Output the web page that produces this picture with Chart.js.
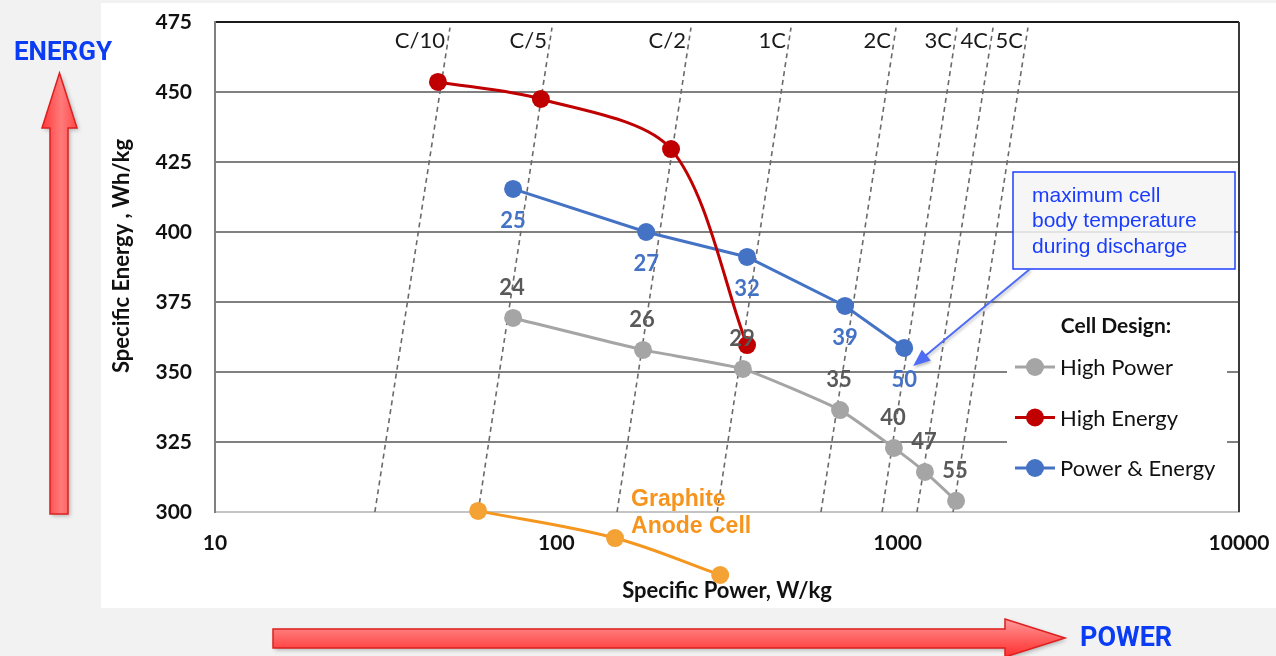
<!DOCTYPE html>
<html>
<head>
<meta charset="utf-8">
<title>Specific Energy vs Specific Power</title>
<script src="https://cdn.jsdelivr.net/npm/chart.js@4.4.1/dist/chart.umd.min.js"></script>
<style>
  html, body { margin: 0; padding: 0; background: #f2f2f2; overflow: hidden; }
  #wrap { width: 1276px; height: 656px; position: relative; }
</style>
</head>
<body>
<div id="wrap"><canvas id="chart"></canvas></div>
<script>
// Axis ticks
const powerTicks = [10, 100, 1000, 10000];
const energyMin = 300;
const energyMax = 475;
const energyStep = 25;

// Cell design series: specific power (W/kg) and specific energy (Wh/kg)
const highPowerPower   = [74.7, 179.5, 352, 678, 975, 1202, 1483];
const highPowerEnergy  = [369.3, 357.9, 351.1, 336.4, 322.9, 314.3, 304.0];
const highPowerTemp    = [24, 26, 29, 35, 40, 47, 55];

const highEnergyPower  = [45, 90.1, 216.8, 362];
const highEnergyEnergy = [453.6, 447.5, 429.6, 359.6];

const powerEnergyPower  = [74.7, 183.3, 362, 701, 1045];
const powerEnergyEnergy = [415.4, 400, 391.1, 373.6, 358.6];
const powerEnergyTemp   = [25, 27, 32, 39, 50];

const graphitePower  = [59, 148.6, 302];
const graphiteEnergy = [300.4, 290.7, 277.5];

// Discharge-rate guide lines (power at the low and high energy ends)
const cRateLabels      = ['C/10', 'C/5', 'C/2', '1C', '2C', '3C', '4C', '5C'];
const cRateLowPower    = [29.4, 59, 150.6, 296, 596, 900, 1139, 1453];
const cRateHighPower   = [48.8, 97.1, 248, 487, 989, 1492, 1903, 2408];
const cRateEnergyEnds  = [300, 473];

const xTitle = 'Specific Power, W/kg';
const yTitle = 'Specific Energy , Wh/kg';
const legendTitle = 'Cell Design:';
const legendNames = ['High Power', 'High Energy', 'Power & Energy'];
const calloutLines = ['maximum cell', 'body temperature', 'during discharge'];
const graphiteLines = ['Graphite', 'Anode Cell'];

const GRAY = '#A5A5A5', RED = '#C00000', BLUE = '#4472C4', ORANGE = '#F5A235';

const toPoints = (xs, ys) => xs.map((x, i) => ({ x: x, y: ys[i] }));

function series(label, xs, ys, color, tension, extra) {
  return Object.assign({
    label: label,
    data: toPoints(xs, ys),
    borderColor: color,
    backgroundColor: color,
    pointBackgroundColor: color,
    pointBorderColor: color,
    pointRadius: 9,
    pointBorderWidth: 0,
    borderWidth: 3,
    tension: tension,
    showLine: true
  }, extra || {});
}

const datasets = [
  series('High Energy', highEnergyPower, highEnergyEnergy, RED, 0.3),
  series('High Power', highPowerPower, highPowerEnergy, GRAY, 0.15),
  series('Power & Energy', powerEnergyPower, powerEnergyEnergy, BLUE, 0),
  // Graphite cell runs below the energy axis floor; its markers are drawn by the plugin
  series('Graphite Anode Cell', graphitePower, graphiteEnergy, ORANGE, 0.35,
         { clip: false, borderColor: '#F5961E', pointRadius: 0 })
];

cRateLabels.forEach((name, i) => {
  datasets.push({
    label: name,
    data: [{ x: cRateLowPower[i], y: cRateEnergyEnds[0] }, { x: cRateHighPower[i], y: cRateEnergyEnds[1] }],
    borderColor: '#6a6a6a',
    borderWidth: 1.6,
    borderDash: [5, 4],
    pointRadius: 0,
    showLine: true,
    tension: 0
  });
});

function drawArrowShape(ctx, pts, grad, stroke) {
  ctx.save();
  ctx.shadowColor = 'rgba(0,0,0,0.28)';
  ctx.shadowBlur = 4;
  ctx.shadowOffsetX = 2;
  ctx.shadowOffsetY = 2;
  ctx.beginPath();
  pts.forEach((p, i) => i ? ctx.lineTo(p[0], p[1]) : ctx.moveTo(p[0], p[1]));
  ctx.closePath();
  ctx.fillStyle = grad;
  ctx.fill();
  ctx.shadowColor = 'transparent';
  ctx.lineWidth = 1.5;
  ctx.strokeStyle = stroke;
  ctx.stroke();
  ctx.restore();
}

// Keep tick-label overhang from pushing the plot area inward
function noOverhang(s) {
  s.paddingTop = 0;
  s.paddingBottom = 0;
  s.paddingLeft = 0;
  s.paddingRight = 0;
}

const decor = {
  id: 'decor',
  beforeDraw(chart) {
    const ctx = chart.ctx;
    ctx.save();
    ctx.fillStyle = '#f2f2f2';
    ctx.fillRect(0, 0, chart.width, chart.height);
    ctx.fillStyle = '#ffffff';
    ctx.fillRect(101, 3, chart.width - 101, 605);

    // Upward "energy" arrow
    let g = ctx.createLinearGradient(42, 0, 77, 0);
    g.addColorStop(0, '#ff3a3a');
    g.addColorStop(0.55, '#ff7a7a');
    g.addColorStop(1, '#ff4848');
    drawArrowShape(ctx, [[50, 514], [50, 128], [42, 128], [59.5, 73], [77, 128], [68, 128], [68, 514]], g, '#dd1f1f');

    // Rightward "power" arrow
    g = ctx.createLinearGradient(0, 619, 0, 657);
    g.addColorStop(0, '#ff9a9a');
    g.addColorStop(0.5, '#ff6262');
    g.addColorStop(1, '#ff2e2e');
    drawArrowShape(ctx, [[273, 629], [1005, 629], [1005, 619], [1065, 638], [1005, 657], [1005, 648], [273, 648]], g, '#dd1f1f');

    ctx.fillStyle = '#0b3cf5';
    ctx.font = 'bold 26px Roboto';
    ctx.textBaseline = 'middle';
    ctx.textAlign = 'center';
    ctx.fillText('ENERGY', 63, 53);
    ctx.font = 'bold 27px Roboto';
    ctx.textAlign = 'left';
    ctx.fillText('POWER', 1080, 639);
    ctx.restore();
  },
  beforeDatasetsDraw(chart) {
    // Legend panel hides the grid behind it
    const a = chart.chartArea, ctx = chart.ctx;
    ctx.save();
    ctx.fillStyle = '#ffffff';
    ctx.fillRect(a.right - 232, 306, 220, 194);
    ctx.restore();
  },
  afterDatasetsDraw(chart) {
    const ctx = chart.ctx, a = chart.chartArea;
    const xs = chart.scales.x, ys = chart.scales.y;
    ctx.save();

    // Right frame edge
    ctx.strokeStyle = '#3a3a3a';
    ctx.lineWidth = 2;
    ctx.beginPath();
    ctx.moveTo(a.right, a.top);
    ctx.lineTo(a.right, a.bottom);
    ctx.stroke();

    // Energy axis title, set slightly above the plot's mid-height
    ctx.save();
    ctx.translate(ys.left + 21, (a.top + a.bottom) / 2 - 11);
    ctx.rotate(-Math.PI / 2);
    ctx.font = 'bold 22px Lato';
    ctx.fillStyle = '#111';
    ctx.textAlign = 'center';
    ctx.textBaseline = 'middle';
    ctx.fillText(yTitle, 0, 0);
    ctx.restore();

    // Graphite cell markers (outside the plot floor)
    const gpts = chart.getDatasetMeta(3).data;
    ctx.fillStyle = ORANGE;
    gpts.forEach(el => {
      ctx.beginPath();
      ctx.arc(el.x, el.y, 9, 0, Math.PI * 2);
      ctx.fill();
    });

    // Discharge-rate labels
    ctx.font = '22px Lato';
    ctx.fillStyle = '#1a1a1a';
    ctx.textAlign = 'right';
    ctx.textBaseline = 'middle';
    cRateLabels.forEach((name, i) => {
      const px = xs.getPixelForValue(cRateHighPower[i]);
      const py = ys.getPixelForValue(cRateEnergyEnds[1]);
      ctx.fillText(name, px - 5, py + 13);
    });

    // Temperature labels
    ctx.textAlign = 'center';
    ctx.font = 'bold 22px Lato';
    const hp = chart.getDatasetMeta(1).data;
    ctx.fillStyle = '#595959';
    hp.forEach((el, i) => ctx.fillText(String(highPowerTemp[i]), el.x - 1, el.y - 30));
    const pe = chart.getDatasetMeta(2).data;
    ctx.fillStyle = BLUE;
    pe.forEach((el, i) => ctx.fillText(String(powerEnergyTemp[i]), el.x, el.y + 32));

    // Graphite cell tag
    const gp = gpts[1];
    ctx.font = 'bold 23px "Liberation Sans", Arial';
    ctx.fillStyle = '#F7941D';
    ctx.textAlign = 'left';
    graphiteLines.forEach((t, i) => ctx.fillText(t, gp.x + 16, gp.y - 38 + i * 27));

    // Callout box
    const bx = a.right - 226, by = 172, bw = 222, bh = 97;
    ctx.fillStyle = 'rgba(244,244,244,0.85)';
    ctx.fillRect(bx, by, bw, bh);
    ctx.strokeStyle = '#1f3fff';
    ctx.lineWidth = 1.5;
    ctx.strokeRect(bx, by, bw, bh);
    ctx.font = '21px "Liberation Sans", Arial';
    ctx.fillStyle = '#1a3cff';
    calloutLines.forEach((t, i) => ctx.fillText(t, bx + 19, by + 24 + i * 25.5));

    // Callout pointer toward the hottest Power & Energy point
    const last = pe[pe.length - 1];
    const tx = last.x + 9, ty = last.y + 18;
    const sx = bx + 17, sy = by + bh;
    const ang = Math.atan2(ty - sy, tx - sx);
    ctx.save();
    ctx.shadowColor = 'rgba(0,0,0,0.25)';
    ctx.shadowBlur = 3;
    ctx.shadowOffsetX = 1;
    ctx.shadowOffsetY = 2;
    ctx.strokeStyle = '#4e6cf4';
    ctx.fillStyle = '#4e6cf4';
    ctx.lineWidth = 2;
    ctx.beginPath();
    ctx.moveTo(sx, sy);
    ctx.lineTo(tx - 12 * Math.cos(ang), ty - 12 * Math.sin(ang));
    ctx.stroke();
    ctx.beginPath();
    ctx.moveTo(tx, ty);
    ctx.lineTo(tx - 17 * Math.cos(ang) + 7 * Math.sin(ang), ty - 17 * Math.sin(ang) - 7 * Math.cos(ang));
    ctx.lineTo(tx - 17 * Math.cos(ang) - 7 * Math.sin(ang), ty - 17 * Math.sin(ang) + 7 * Math.cos(ang));
    ctx.closePath();
    ctx.fill();
    ctx.restore();

    // Legend
    const lx = a.right - 224;
    ctx.textAlign = 'center';
    ctx.fillStyle = '#111';
    ctx.font = 'bold 21px Lato';
    ctx.fillText(legendTitle, lx + 101, 326);
    const colors = [GRAY, RED, BLUE];
    ctx.font = '22px Lato';
    ctx.textAlign = 'left';
    legendNames.forEach((name, i) => {
      const y = 367 + i * 50.5;
      ctx.strokeStyle = colors[i];
      ctx.lineWidth = 3;
      ctx.beginPath();
      ctx.moveTo(lx, y);
      ctx.lineTo(lx + 40, y);
      ctx.stroke();
      ctx.fillStyle = colors[i];
      ctx.beginPath();
      ctx.arc(lx + 20, y, 9, 0, Math.PI * 2);
      ctx.fill();
      ctx.fillStyle = '#111';
      ctx.fillText(name, lx + 45, y + 1);
    });
    ctx.restore();
  }
};

const tickFont = { family: 'Lato', size: 21, weight: 'bold' };

new Chart(document.getElementById('chart'), {
  type: 'scatter',
  data: { datasets: datasets },
  plugins: [decor],
  options: {
    responsive: true,
    maintainAspectRatio: false,
    animation: false,
    events: [],
    layout: { autoPadding: false, padding: { left: 101, top: 22, right: 37, bottom: 48 } },
    plugins: { legend: { display: false }, tooltip: { enabled: false } },
    scales: {
      x: {
        type: 'logarithmic',
        min: powerTicks[0],
        max: powerTicks[powerTicks.length - 1],
        afterBuildTicks: s => { s.ticks = powerTicks.map(v => ({ value: v })); },
        afterFit: s => { s.height = 96; noOverhang(s); },
        grid: { display: false, drawTicks: false },
        border: { color: '#c4c4c4', width: 2 },
        ticks: {
          padding: 19, color: '#111', font: tickFont, autoSkip: false, maxRotation: 0,
          callback: v => String(v)
        },
        title: {
          display: true, text: xTitle, color: '#111',
          font: { family: 'Lato', size: 22, weight: 'bold' }, padding: { top: 0, bottom: 4 }
        }
      },
      y: {
        min: energyMin,
        max: energyMax,
        afterFit: s => { s.width = 114; noOverhang(s); },
        grid: {
          drawTicks: false,
          lineWidth: 2,
          color: c => c.tick.value === energyMax ? '#1a1a1a' : (c.tick.value === energyMin ? '#c4c4c4' : '#808080')
        },
        border: { color: '#808080', width: 2 },
        ticks: { stepSize: energyStep, padding: 23, color: '#111', font: tickFont },
        title: { display: false, text: yTitle }
      }
    }
  }
});
</script>
</body>
</html>
